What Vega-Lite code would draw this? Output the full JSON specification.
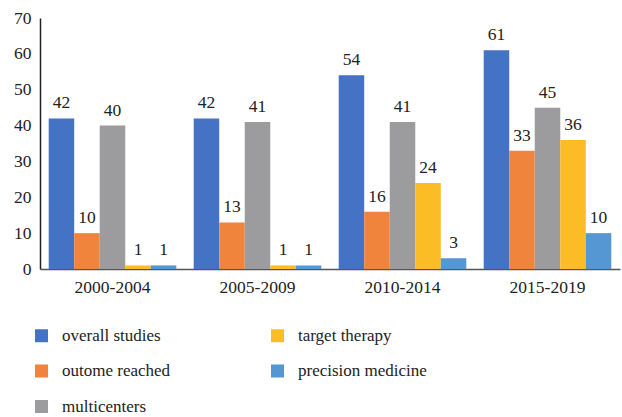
{
  "$schema": "https://vega.github.io/schema/vega-lite/v6.json",
  "autosize": {"type": "none"},
  "width": 580,
  "height": 251,
  "padding": {"left": 40, "top": 18, "right": 2, "bottom": 148},
  "background": "white",
  "config": {
    "view": {"stroke": null},
    "font": "Liberation Serif"
  },
  "data": {
    "values": [
      {"period": "2000-2004", "series": "overall studies", "value": 42},
      {"period": "2000-2004", "series": "outome reached", "value": 10},
      {"period": "2000-2004", "series": "multicenters", "value": 40},
      {"period": "2000-2004", "series": "target therapy", "value": 1},
      {"period": "2000-2004", "series": "precision medicine", "value": 1},
      {"period": "2005-2009", "series": "overall studies", "value": 42},
      {"period": "2005-2009", "series": "outome reached", "value": 13},
      {"period": "2005-2009", "series": "multicenters", "value": 41},
      {"period": "2005-2009", "series": "target therapy", "value": 1},
      {"period": "2005-2009", "series": "precision medicine", "value": 1},
      {"period": "2010-2014", "series": "overall studies", "value": 54},
      {"period": "2010-2014", "series": "outome reached", "value": 16},
      {"period": "2010-2014", "series": "multicenters", "value": 41},
      {"period": "2010-2014", "series": "target therapy", "value": 24},
      {"period": "2010-2014", "series": "precision medicine", "value": 3},
      {"period": "2015-2019", "series": "overall studies", "value": 61},
      {"period": "2015-2019", "series": "outome reached", "value": 33},
      {"period": "2015-2019", "series": "multicenters", "value": 45},
      {"period": "2015-2019", "series": "target therapy", "value": 36},
      {"period": "2015-2019", "series": "precision medicine", "value": 10}
    ]
  },
  "encoding": {
    "x": {
      "field": "period", "type": "nominal", "title": null,
      "scale": {"paddingInner": 0.12, "paddingOuter": 0.06},
      "axis": {"labelAngle": 0, "labelFontSize": 17.5, "labelColor": "#222", "labelPadding": 9, "ticks": false, "domainColor": "#555", "domainWidth": 1.5}
    },
    "xOffset": {
      "field": "series", "type": "nominal",
      "sort": ["overall studies", "outome reached", "multicenters", "target therapy", "precision medicine"],
      "scale": {"paddingInner": 0, "paddingOuter": 0}
    },
    "y": {
      "field": "value", "type": "quantitative", "title": null,
      "scale": {"domain": [0, 70]},
      "axis": {"values": [0, 10, 20, 30, 40, 50, 60, 70], "grid": false, "ticks": false, "labelFontSize": 17.5, "labelColor": "#222", "labelPadding": 9, "domainColor": "#222", "domainWidth": 1.5}
    }
  },
  "layer": [
    {
      "mark": {"type": "bar"},
      "encoding": {
        "color": {
          "field": "series", "type": "nominal",
          "scale": {
            "domain": ["overall studies", "outome reached", "multicenters", "target therapy", "precision medicine"],
            "range": ["#4472C4", "#F0843C", "#9C9C9E", "#FBBC26", "#5497D3"]
          },
          "legend": {
            "title": null, "orient": "none", "legendX": -7, "legendY": 309,
            "columns": 2, "columnPadding": 98, "rowPadding": 17.5,
            "symbolType": "square", "symbolSize": 169, "symbolStrokeWidth": 0,
            "labelFontSize": 17, "labelColor": "#222", "labelOffset": 12, "labelLimit": 300
          }
        }
      }
    },
    {
      "mark": {"type": "text", "baseline": "bottom", "dy": -6, "fontSize": 17.5, "color": "#222"},
      "encoding": {"text": {"field": "value", "type": "quantitative"}}
    }
  ]
}
